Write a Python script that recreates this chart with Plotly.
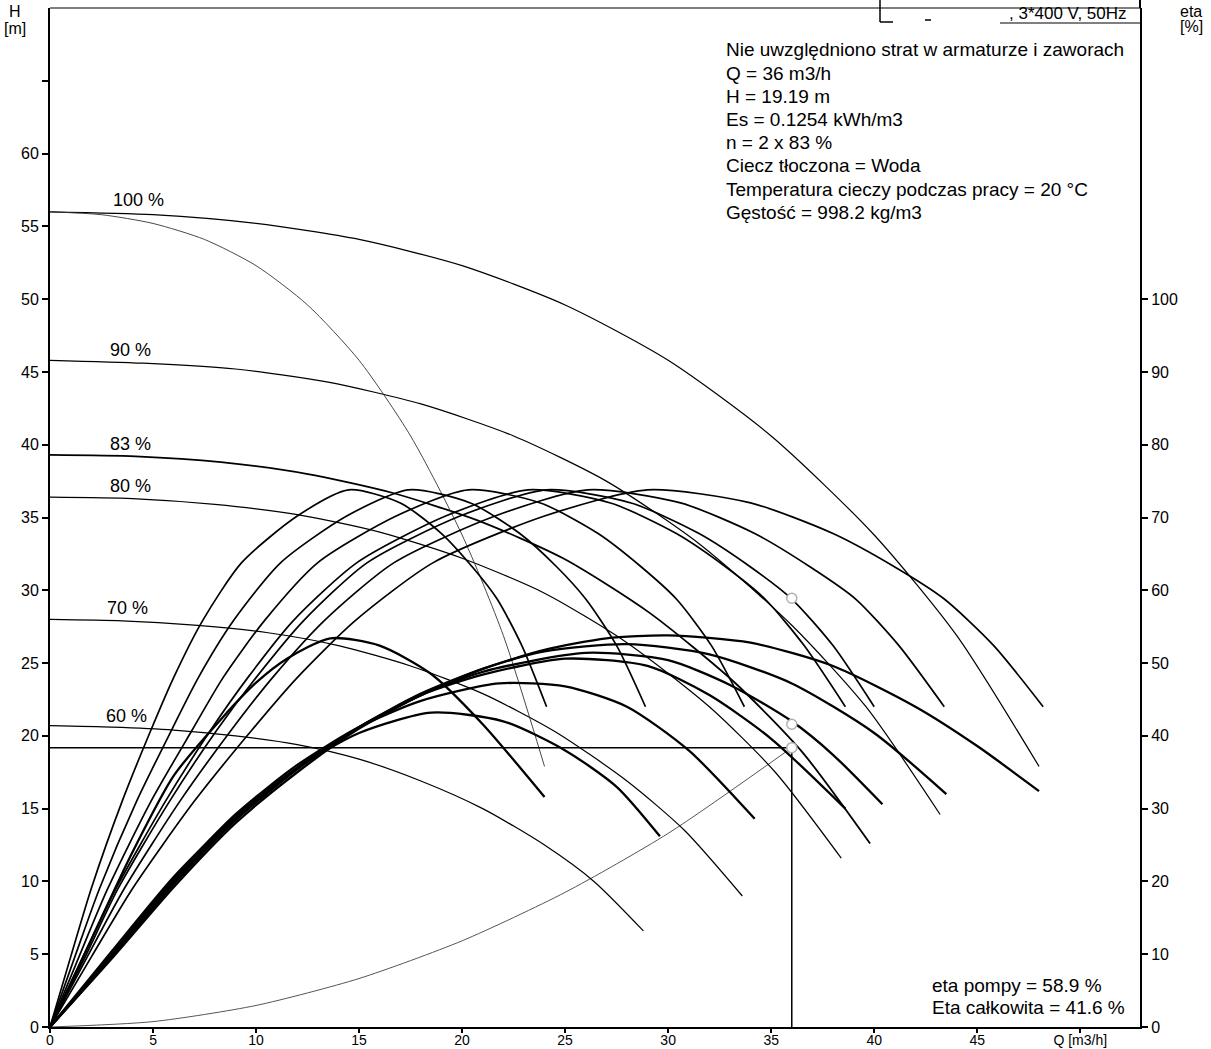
import plotly.graph_objects as go

# ---------------- data ----------------
speed_labels = ["100 %", "90 %", "83 %", "80 %", "70 %", "60 %"]

# Head curves H(Q) [m]
q_h100 = [0, 5, 10, 15, 20, 25, 30, 35, 40, 44, 48]
h_h100 = [56.0, 55.8, 55.2, 54.1, 52.3, 49.6, 45.8, 40.6, 33.8, 26.9, 17.9]
q_h90 = [0, 4.5, 9, 13.5, 18, 22.5, 27, 31.5, 36, 39.6, 43.2]
h_h90 = [45.8, 45.6, 45.2, 44.3, 42.8, 40.6, 37.5, 33.2, 27.6, 22.0, 14.6]
q_h83 = [0, 4.15, 8.3, 12.45, 16.6, 20.75, 24.9, 29.05, 33.2, 36.5, 39.8]
h_h83 = [39.3, 39.2, 38.8, 38.0, 36.7, 34.8, 32.2, 28.5, 23.7, 18.9, 12.6]
q_h80 = [0, 4, 8, 12, 16, 20, 24, 28, 32, 35.2, 38.4]
h_h80 = [36.4, 36.3, 35.9, 35.2, 34.0, 32.2, 29.8, 26.4, 22.0, 17.5, 11.6]
q_h70 = [0, 3.5, 7, 10.5, 14, 17.5, 21, 24.5, 28, 30.8, 33.6]
h_h70 = [28.0, 27.9, 27.6, 27.1, 26.2, 24.8, 22.9, 20.3, 16.9, 13.5, 9.0]
q_h60 = [0, 3, 6, 9, 12, 15, 18, 21, 24, 26.4, 28.8]
h_h60 = [20.7, 20.6, 20.4, 20.0, 19.4, 18.4, 16.9, 15.0, 12.5, 10.0, 6.6]

# single pump head curve at 100 %
q_single = [0, 2.5, 5, 7.5, 10, 12.5, 15, 17.5, 20, 22, 24]
h_single = [56.0, 55.8, 55.2, 54.1, 52.3, 49.6, 45.8, 40.6, 33.8, 26.9, 17.9]

# system curve
q_sys = [0, 5, 10, 15, 20, 25, 30, 36]
h_sys = [0, 0.37, 1.48, 3.33, 5.92, 9.25, 13.3, 19.19]

# operating point
q_op = 36
h_op = 19.19
eta_pump_op = 58.9
eta_total_op = 41.6

# pump efficiency curves [%] (same eta values, Q read for each speed)
eta_pump = [0, 9.6, 19, 31, 40.8, 48, 55.8, 63.8, 70.2, 73.8, 72.0, 67.8, 63.2, 58.8, 52.4, 44.0]
q_ep_single = [0, 1, 2, 3.5, 4.9, 6, 7.4, 9.3, 12, 14.5, 17, 19, 20.5, 21.7, 22.9, 24.1]
q_ep60 = [0, 1.2, 2.4, 4.2, 5.9, 7.2, 8.9, 11.2, 14.4, 17.4, 20.4, 22.8, 24.6, 26.0, 27.5, 28.9]
q_ep70 = [0, 1.4, 2.8, 4.9, 6.9, 8.4, 10.4, 13.0, 16.8, 20.3, 23.8, 26.6, 28.7, 30.4, 32.1, 33.7]
q_ep80 = [0, 1.6, 3.2, 5.6, 7.8, 9.6, 11.8, 14.9, 19.2, 23.2, 27.2, 30.4, 32.8, 34.7, 36.6, 38.6]
q_ep83 = [0, 1.7, 3.3, 5.8, 8.1, 10.0, 12.3, 15.4, 19.9, 24.1, 28.2, 31.5, 34.0, 36.0, 38.0, 40.0]
q_ep90 = [0, 1.8, 3.6, 6.3, 8.8, 10.8, 13.3, 16.7, 21.6, 26.1, 30.6, 34.2, 36.9, 39.1, 41.2, 43.4]
q_ep100 = [0, 2, 4, 7, 9.8, 12, 14.8, 18.6, 24, 29, 34, 38, 41, 43.4, 45.8, 48.2]

# total efficiency curves [%]
q_et_single = [0, 2, 4, 6, 8.4, 10, 11.5, 13.6, 16, 18.5, 21, 24]
e_et_single = [0, 12, 24, 34.5, 42.6, 47.3, 50.6, 53.4, 52.4, 48.5, 41.6, 31.6]
q_et60 = [0, 3, 6, 9, 12, 15, 18.5, 22, 25, 27.5, 29.6]
e_et60 = [0, 10.4, 20.6, 29.0, 35.6, 40.4, 43.2, 42.0, 38.0, 33.0, 26.2]
q_et70 = [0, 3, 6, 9, 12, 15, 18, 21.8, 25, 28, 31, 34.2]
e_et70 = [0, 10.0, 20.4, 29.2, 36.0, 41.2, 44.8, 47.2, 46.8, 44.0, 38.0, 28.6]
q_et80 = [0, 3, 6, 9, 12, 15, 18, 21, 25, 29, 32, 35, 38.6]
e_et80 = [0, 9.8, 20.0, 28.8, 35.6, 41.2, 45.6, 48.4, 50.6, 49.6, 45.6, 39.6, 30.0]
q_et83 = [0, 3, 6, 9, 12, 15, 18, 21, 26, 30, 33, 36, 38, 40.4]
e_et83 = [0, 9.8, 20.0, 28.6, 35.6, 41.2, 45.6, 48.8, 51.4, 50.4, 47.0, 42.0, 37.4, 30.6]
q_et90 = [0, 3, 6, 9, 12, 15, 18, 21, 24, 28, 32, 36, 40, 43.5]
e_et90 = [0, 9.6, 19.6, 28.4, 35.4, 41.2, 45.8, 49.2, 51.6, 52.6, 51.2, 47.2, 40.4, 32.0]
q_et100 = [0, 3, 6, 9, 12, 15, 18, 21, 24, 27, 30, 34, 38, 42, 45, 48]
e_et100 = [0, 9.4, 19.2, 28.0, 35.0, 41.0, 45.6, 49.2, 51.8, 53.4, 53.8, 52.8, 49.6, 44.0, 38.6, 32.4]

x_ticks = [0, 5, 10, 15, 20, 25, 30, 35, 40, 45, 50]
x_ticktext = ["0", "5", "10", "15", "20", "25", "30", "35", "40", "45", "Q [m3/h]"]
y_ticks = [0, 5, 10, 15, 20, 25, 30, 35, 40, 45, 50, 55, 60, 65]
y_ticktext = ["0", "5", "10", "15", "20", "25", "30", "35", "40", "45", "50", "55", "60", ""]
eta_ticks = [0, 10, 20, 30, 40, 50, 60, 70, 80, 90, 100]

info_lines = [
    "Nie uwzględniono strat w armaturze i zaworach",
    "Q = 36 m3/h",
    "H = 19.19 m",
    "Es = 0.1254 kWh/m3",
    "n = 2 x 83 %",
    "Ciecz tłoczona = Woda",
    "Temperatura cieczy podczas pracy = 20 °C",
    "Gęstość = 998.2 kg/m3",
]
header_text = ", 3*400 V, 50Hz"
result_lines = ["eta pompy = 58.9 %", "Eta całkowita = 41.6 %"]

# ---------------- figure ----------------
W, H = 1211, 1049
L, R, T, B = 50, 1140, 8, 1027
FONT = "Liberation Sans, Arial, sans-serif"


def px(x):
    return (x - L) / (R - L)


def py(y):
    return (B - y) / (B - T)


fig = go.Figure()


def line(q, v, width, color="black", axis="y"):
    fig.add_trace(go.Scatter(x=q, y=v, mode="lines", yaxis=axis,
                             line=dict(color=color, width=width, shape="spline",
                                       smoothing=0.7),
                             hoverinfo="skip", showlegend=False))


# system curve
line(q_sys, h_sys, 1.0, color="#555555")

# head curves
for q, h, w in [(q_h100, h_h100, 1.2), (q_h90, h_h90, 1.2), (q_h83, h_h83, 1.8),
                (q_h80, h_h80, 1.2), (q_h70, h_h70, 1.2), (q_h60, h_h60, 1.2)]:
    line(q, h, w)
line(q_single, h_single, 0.9, color="#333333")

# pump efficiency curves
for q in [q_ep_single, q_ep60, q_ep70, q_ep80, q_ep83, q_ep90, q_ep100]:
    line(q, eta_pump, 1.7, axis="y2")

# total efficiency curves
for q, e in [(q_et_single, e_et_single), (q_et60, e_et60), (q_et70, e_et70),
             (q_et80, e_et80), (q_et83, e_et83), (q_et90, e_et90), (q_et100, e_et100)]:
    line(q, e, 2.3, axis="y2")

# operating point lines
fig.add_trace(go.Scatter(x=[0, q_op, q_op], y=[h_op, h_op, 0], mode="lines",
                         line=dict(color="black", width=1.5), hoverinfo="skip",
                         showlegend=False))
marker_style = dict(symbol="circle", size=10, color="white",
                    line=dict(width=1.5, color="#b0b0b0"))
fig.add_trace(go.Scatter(x=[q_op], y=[h_op], mode="markers", marker=marker_style,
                         hoverinfo="skip", showlegend=False))
fig.add_trace(go.Scatter(x=[q_op, q_op], y=[eta_pump_op, eta_total_op], mode="markers",
                         yaxis="y2", marker=marker_style,
                         hoverinfo="skip", showlegend=False))

ann = []


def text(t, x, y, size, anchor="left"):
    ann.append(dict(text=t, x=px(x), y=py(y), xref="paper", yref="paper",
                    xanchor=anchor, yanchor="middle", showarrow=False,
                    font=dict(size=size, color="black", family=FONT)))


label_pos = [(138, 200), (130, 350), (130, 444), (130, 486), (127, 608), (126, 716)]
for t, (x0, y0) in zip(speed_labels, label_pos):
    text(t, x0, y0, 18, "center")
for i, t in enumerate(info_lines):
    text(t, 724, 50 + i * 23.2, 19)
text(header_text, 1129, 13, 17, "right")
text(result_lines[0], 930, 985, 19)
text(result_lines[1], 930, 1007, 19)
text("H", 15, 12, 16, "center")
text("[m]", 15, 28, 16, "center")
text("eta", 1191, 11, 16, "center")
text("[%]", 1191, 27, 16, "center")

shapes = [
    dict(type="line", xref="paper", yref="paper", x0=0, x1=1, y0=1, y1=1,
         line=dict(color="black", width=1.2)),
    dict(type="line", xref="paper", yref="paper", x0=px(880), x1=px(880), y0=py(0), y1=py(22),
         line=dict(color="black", width=1.5)),
    dict(type="line", xref="paper", yref="paper", x0=px(880), x1=px(893), y0=py(22), y1=py(22),
         line=dict(color="black", width=1.5)),
    dict(type="line", xref="paper", yref="paper", x0=px(925), x1=px(931), y0=py(20), y1=py(20),
         line=dict(color="black", width=1.5)),
    dict(type="line", xref="paper", yref="paper", x0=px(1000), x1=1, y0=py(23), y1=py(23),
         line=dict(color="black", width=1.2)),
    dict(type="line", xref="paper", yref="paper", x0=1, x1=1, y0=1, y1=py(0),
         line=dict(color="black", width=2)),
]

axis_font = dict(size=16, color="black", family=FONT)
common = dict(ticks="outside", tickwidth=1.5, tickcolor="black",
              showline=True, linecolor="black", linewidth=2, showgrid=False,
              zeroline=False, automargin=False)
fig.update_layout(
    template="none",
    width=W, height=H,
    margin=dict(l=L, r=W - R, t=T, b=H - B, autoexpand=False),
    paper_bgcolor="white", plot_bgcolor="white",
    showlegend=False,
    annotations=ann,
    shapes=shapes,
    xaxis=dict(range=[0, 52.9], tickvals=x_ticks, ticktext=x_ticktext, ticklen=4,
               ticklabelstandoff=-5,
               tickfont=dict(size=14, color="black", family=FONT), **common),
    yaxis=dict(range=[0, 70], tickvals=y_ticks, ticktext=y_ticktext, ticklen=6,
               tickfont=axis_font, **common),
    yaxis2=dict(range=[0, 140], overlaying="y", side="right", tickvals=eta_ticks,
                ticklen=6, tickfont=axis_font, **common),
)

fig.write_html("out.html", config={"displayModeBar": False},
               post_script="document.body.style.margin='0';document.body.style.overflow='hidden';")
